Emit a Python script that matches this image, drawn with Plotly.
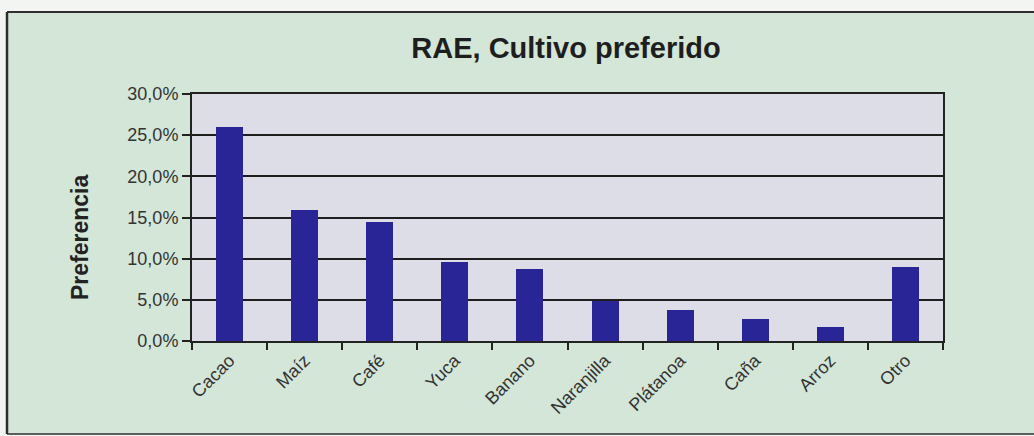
import plotly.graph_objects as go

# Cultivo preferido (RAE) - share of respondents, in percent
cultivos = ["Cacao", "Maíz", "Café", "Yuca", "Banano",
            "Naranjilla", "Plátanoa", "Caña", "Arroz", "Otro"]
preferencia = [26.0, 15.9, 14.5, 9.6, 8.7, 4.8, 3.8, 2.7, 1.7, 9.0]
y_ticks = [0, 5, 10, 15, 20, 25, 30]
y_ticktext = [f"{v:.1f}%".replace(".", ",") for v in y_ticks]

W, H = 1034, 436
L, R, T, B = 192, 943, 94, 341  # plot area in pixels


def px(x):
    return (x - L) / (R - L)


def py(y):
    return (B - y) / (B - T)


positions = list(range(len(cultivos)))

fig = go.Figure(go.Bar(
    x=positions,
    y=preferencia,
    width=0.36,
    marker=dict(color="#2a2596", line=dict(width=0)),
))

frame_color = "#2e2e2e"
shapes = [
    # light strips outside the chart frame
    dict(type="rect", xref="paper", yref="paper", x0=px(-5), x1=px(W + 5),
         y0=py(12), y1=py(-5), fillcolor="#f3f5f3", line_width=0, layer="below"),
    dict(type="rect", xref="paper", yref="paper", x0=px(-5), x1=px(7),
         y0=py(W), y1=py(-5), fillcolor="#f3f5f3", line_width=0, layer="below"),
    dict(type="rect", xref="paper", yref="paper", x0=px(-5), x1=px(W + 5),
         y0=py(H + 5), y1=py(434), fillcolor="#f3f5f3", line_width=0, layer="below"),
    # chart frame
    dict(type="line", xref="paper", yref="paper", x0=px(7), x1=px(W + 5),
         y0=py(12), y1=py(12), line=dict(color=frame_color, width=2)),
    dict(type="line", xref="paper", yref="paper", x0=px(7), x1=px(7),
         y0=py(12), y1=py(434), line=dict(color=frame_color, width=2.5)),
    dict(type="line", xref="paper", yref="paper", x0=px(7), x1=px(W + 5),
         y0=py(434), y1=py(434), line=dict(color=frame_color, width=1.5)),
]

fig.update_layout(
    width=W, height=H,
    margin=dict(l=L, r=W - R, t=T, b=H - B, pad=0),
    paper_bgcolor="#d3e6d7",
    plot_bgcolor="#dcdde7",
    showlegend=False,
    shapes=shapes,
    font=dict(family="Arial, Liberation Sans, sans-serif", color="#333333"),
    title=dict(
        text="<b>RAE, Cultivo preferido</b>",
        x=566 / W, xanchor="center",
        y=1 - 48 / H, yanchor="middle",
        font=dict(size=29, color="#1e1e1e"),
    ),
    annotations=[dict(
        text="<b>Preferencia</b>", textangle=-90,
        xref="paper", yref="paper",
        x=px(80), y=py(237), xanchor="center", yanchor="middle",
        showarrow=False, font=dict(size=23, color="#222222"),
    )],
    bargap=0,
)

fig.update_xaxes(
    range=[-0.5, len(cultivos) - 0.5],
    tickmode="array", tickvals=positions, ticktext=cultivos,
    tickangle=-45, ticks="", ticklen=0,
    tickfont=dict(size=18, color="#333333"),
    showgrid=False, zeroline=False,
    showline=True, linecolor="#222222", linewidth=2, mirror=True,
    minor=dict(ticks="outside", tick0=0.5, dtick=1, ticklen=7,
               tickcolor="#222222", tickwidth=2, showgrid=False),
)

fig.update_yaxes(
    range=[0, 30],
    tickmode="array", tickvals=y_ticks, ticktext=y_ticktext,
    ticks="outside", ticklen=8, tickcolor="#222222", tickwidth=2,
    tickfont=dict(size=18, color="#333333"),
    showgrid=True, gridcolor="#1e1e1e", gridwidth=2,
    zeroline=False,
    showline=True, linecolor="#222222", linewidth=2, mirror=True,
)

fig.write_html("out.html")
